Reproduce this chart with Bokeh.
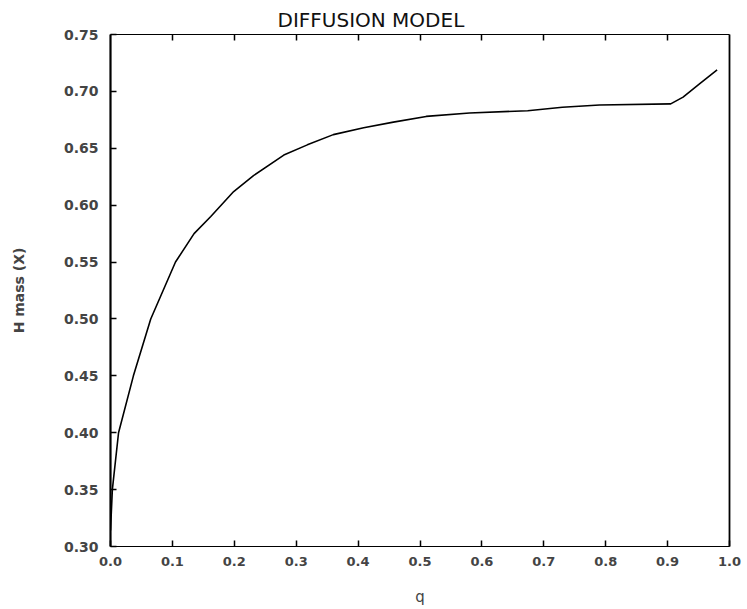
from bokeh.plotting import figure
from bokeh.models import LinearAxis, FixedTicker, NumeralTickFormatter, Title
from bokeh.embed import file_html
from bokeh.resources import INLINE

# Data
q_vals = [0.0, 0.003, 0.013, 0.037, 0.065, 0.105, 0.135, 0.162, 0.199, 0.231, 0.28,
          0.318, 0.36, 0.409, 0.457, 0.51, 0.58, 0.674, 0.73, 0.79, 0.905, 0.925,
          0.95, 0.98]
h_mass = [0.314, 0.35, 0.40, 0.45, 0.50, 0.55, 0.575, 0.59, 0.612, 0.626, 0.644,
          0.653, 0.662, 0.668, 0.673, 0.678, 0.681, 0.683, 0.686, 0.688, 0.689, 0.695,
          0.706, 0.719]
x_ticks = [0.0, 0.1, 0.2, 0.3, 0.4, 0.5, 0.6, 0.7, 0.8, 0.9, 1.0]
y_ticks = [0.30, 0.35, 0.40, 0.45, 0.50, 0.55, 0.60, 0.65, 0.70, 0.75]
title_text = "DIFFUSION MODEL"
x_label = "q"
y_label = "H mass (X)"

p = figure(width=747, height=609, x_range=(0, 1), y_range=(0.30, 0.75),
           output_backend="svg", toolbar_location=None,
           x_axis_location=None, y_axis_location=None,
           min_border_left=110, min_border_right=18, min_border_top=34,
           min_border_bottom=63)
p.grid.visible = False
p.outline_line_color = None
p.background_fill_color = "white"
p.border_fill_color = "white"

font = "DejaVu Sans"

# top axis (ticks only, no labels) - added first so it sits on the frame
xt = LinearAxis(ticker=FixedTicker(ticks=x_ticks[1:-1]))
xt.major_tick_in = 6
xt.major_tick_out = 0
xt.minor_tick_line_color = None
xt.major_label_text_color = None
xt.major_label_text_font_size = "1px"
xt.major_label_standoff = 0
xt.axis_line_width = 1.2
xt.major_tick_line_width = 1.5
p.add_layout(xt, "above")

t = Title(text=title_text, align="left", offset=167, text_font=font,
          text_font_size="20px", text_font_style="normal", text_color="#111111",
          standoff=5)
p.add_layout(t, "above")

# bottom axis
xb = LinearAxis(ticker=FixedTicker(ticks=x_ticks), formatter=NumeralTickFormatter(format="0.0"),
                axis_label=x_label)
xb.major_tick_in = 6
xb.major_tick_out = 0
xb.minor_tick_line_color = None
xb.axis_line_width = 1.2
xb.major_tick_line_width = 1.5
xb.major_label_text_font = font
xb.major_label_text_font_style = "bold"
xb.major_label_text_font_size = "13px"
xb.major_label_standoff = 10
xb.axis_label_text_font = font
xb.axis_label_text_font_style = "normal"
xb.axis_label_text_font_size = "15px"
xb.axis_label_standoff = 19
p.add_layout(xb, "below")

# left axis
yl = LinearAxis(ticker=FixedTicker(ticks=y_ticks), formatter=NumeralTickFormatter(format="0.00"),
                axis_label=y_label)
yl.major_tick_in = 6
yl.major_tick_out = 0
yl.minor_tick_line_color = None
yl.axis_line_width = 2.2
yl.major_tick_line_width = 1.5
yl.major_label_text_font = font
yl.major_label_text_font_style = "bold"
yl.major_label_text_font_size = "14px"
yl.major_label_standoff = 12
yl.axis_label_text_font = font
yl.axis_label_text_font_style = "bold"
yl.axis_label_text_font_size = "14px"
yl.axis_label_standoff = 34
p.add_layout(yl, "left")

# right axis (line only)
yr = LinearAxis(ticker=FixedTicker(ticks=[]))
yr.major_tick_line_color = None
yr.minor_tick_line_color = None
yr.major_label_text_color = None
yr.axis_line_width = 1.8
p.add_layout(yr, "right")

p.line(q_vals, h_mass, line_color="black", line_width=1.6)

open("out.html", "w").write(file_html(p, INLINE))
